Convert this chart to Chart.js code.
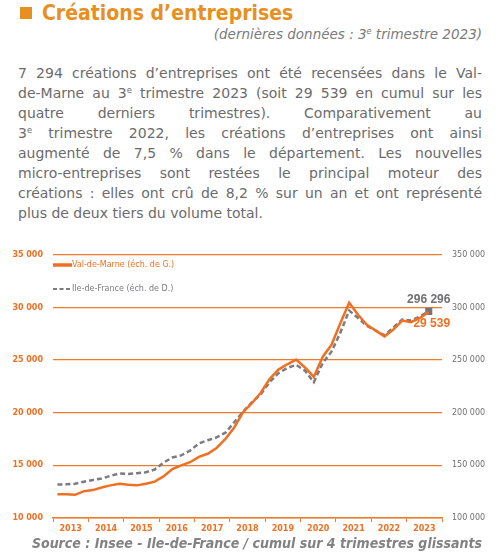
<!DOCTYPE html>
<html lang="fr">
<head>
    <meta charset="UTF-8">
    <title>Créations d'entreprises</title>
    <script src="https://cdn.jsdelivr.net/npm/chart.js"></script>
    <style>
        body { margin: 0; width: 499px; height: 553px; background: #fff; position: relative; overflow: hidden; }
        .carre { position: absolute; left: 20px; top: 7px; width: 12px; height: 12px; background: #E8901F; }
        .titre { position: absolute; left: 42px; top: 1px; font: bold 21px "DejaVu Sans Condensed", "DejaVu Sans"; color: #E8901F; }
        .soustitre { position: absolute; right: 17px; top: 26px; font: italic 13.5px "DejaVu Sans"; color: #7a7a7a; }
        .texte { position: absolute; left: 18px; top: 63px; width: 464px; font: 14px "DejaVu Sans"; line-height: 20px; color: #6b6b6b; }
        .texte div { text-align: justify; text-align-last: justify; white-space: nowrap; }
        .texte div.fin { text-align-last: left; }
        sup { font-size: 0.6em; line-height: 0; vertical-align: 0.6em; }
        #zone { position: absolute; left: 0; top: 240px; }
        .source { position: absolute; left: 0; width: 482px; text-align: right; top: 535px; font: italic bold 14px "DejaVu Sans Condensed", "DejaVu Sans"; color: #828282; }
    </style>
</head>
<body>
    <div class="carre"></div>
    <div class="titre">Créations d’entreprises</div>
    <div class="soustitre">(dernières données : 3<sup>e</sup> trimestre 2023)</div>
    <div class="texte">
        <div>7 294 créations d’entreprises ont été recensées dans le Val-</div>
        <div>de-Marne au 3<sup>e</sup> trimestre 2023 (soit 29 539 en cumul sur les</div>
        <div>quatre derniers trimestres). Comparativement au</div>
        <div>3<sup>e</sup> trimestre 2022, les créations d’entreprises ont ainsi</div>
        <div>augmenté de 7,5 % dans le département. Les nouvelles</div>
        <div>micro-entreprises sont restées le principal moteur des</div>
        <div>créations : elles ont crû de 8,2 % sur un an et ont représenté</div>
        <div class="fin">plus de deux tiers du volume total.</div>
    </div>

    <canvas id="zone" width="499" height="296"></canvas>

    <div class="source">Source : Insee - Ile-de-France / cumul sur 4 trimestres glissants</div>

    <script>
        // données trimestrielles, 2013 T1 -> 2023 T3 (cumul sur 4 trimestres)
        var years = ['2013', '2014', '2015', '2016', '2017', '2018', '2019', '2020', '2021', '2022', '2023'];
        var valDeMarne = [12250, 12250, 12200, 12550, 12650, 12900, 13100, 13250, 13150, 13100, 13250, 13450,
            13950, 14650, 15000, 15300, 15800, 16100, 16650, 17500, 18600, 20050, 20900, 21900,
            23200, 24100, 24600, 25050, 24300, 23400, 25300, 26450, 28500, 30450, 29300, 28350,
            27800, 27250, 27900, 28750, 28600, 29000, 29539];
        var ileDeFrance = [131800, 132000, 132500, 134500, 136000, 137500, 140000, 142400, 141800, 142500, 143500, 146000,
            152600, 157500, 159500, 164000, 170800, 173800, 176500, 181000, 191000, 201000, 210000, 217500,
            229000, 237500, 242500, 245500, 240000, 229000, 247000, 258000, 276000, 297000, 290000, 282500,
            278000, 273500, 281000, 288500, 287500, 291500, 296296];
        var leftTicks = [10000, 15000, 20000, 25000, 30000, 35000];
        var rightTicks = [100000, 150000, 200000, 250000, 300000, 350000];

        var ORANGE = '#F07022';
        var GRILLE = '#EE7A2C';
        var GRIS = '#7B7B82';

        function fmt(n) {
            return String(n).replace(/\B(?=(\d{3})+(?!\d))/g, ' ');
        }

        // un point par trimestre, au milieu du trimestre
        function toPoints(arr) {
            return arr.map(function (v, i) {
                return { x: Number(years[0]) + (i + 0.5) / 4, y: v };
            });
        }

        var yearTicks = [];
        for (var k = 0; k <= years.length * 2; k++) {
            yearTicks.push({ value: Number(years[0]) + k / 2 });
        }

        // légende dans la zone du graphe + étiquettes des dernières valeurs
        var habillage = {
            id: 'habillage',
            afterDatasetsDraw: function (chart) {
                var ctx = chart.ctx;
                var a = chart.chartArea;
                ctx.save();
                ctx.lineWidth = 3.5;
                ctx.strokeStyle = ORANGE;
                ctx.beginPath(); ctx.moveTo(a.left, 25); ctx.lineTo(a.left + 19, 25); ctx.stroke();
                ctx.lineWidth = 2;
                ctx.strokeStyle = GRIS;
                ctx.setLineDash([4, 2.5]);
                ctx.beginPath(); ctx.moveTo(a.left, 49); ctx.lineTo(a.left + 19, 49); ctx.stroke();
                ctx.setLineDash([]);
                ctx.font = '8px "DejaVu Sans"';
                ctx.textBaseline = 'middle';
                ctx.fillStyle = ORANGE;
                ctx.fillText('Val-de-Marne (éch. de G.)', a.left + 19, 25);
                ctx.fillStyle = GRIS;
                ctx.fillText('Ile-de-France (éch. de D.)', a.left + 19, 49);

                var p1 = chart.getDatasetMeta(1).data[ileDeFrance.length - 1];
                var p0 = chart.getDatasetMeta(0).data[valDeMarne.length - 1];
                ctx.font = 'bold 12px "Liberation Sans"';
                ctx.textAlign = 'center';
                ctx.fillStyle = '#6f6f74';
                ctx.fillText(fmt(ileDeFrance[ileDeFrance.length - 1]), p1.x, p1.y - 12);
                ctx.fillStyle = ORANGE;
                ctx.fillText(fmt(valDeMarne[valDeMarne.length - 1]), p0.x + 3, p0.y + 11.5);
                ctx.restore();
            }
        };

        var config = {
            type: 'line',
            data: {
                datasets: [
                    {
                        label: 'Val-de-Marne (éch. de G.)',
                        data: toPoints(valDeMarne),
                        yAxisID: 'y',
                        borderColor: ORANGE,
                        borderWidth: 2.5,
                        pointRadius: 0,
                        tension: 0
                    },
                    {
                        label: 'Ile-de-France (éch. de D.)',
                        data: toPoints(ileDeFrance),
                        yAxisID: 'y1',
                        borderColor: GRIS,
                        borderWidth: 2.5,
                        borderDash: [5, 3],
                        pointStyle: 'rect',
                        pointRadius: function (c) { return c.dataIndex === ileDeFrance.length - 1 ? 5 : 0; },
                        pointBackgroundColor: '#75757b',
                        pointBorderWidth: 0,
                        tension: 0
                    }
                ]
            },
            options: {
                responsive: false,
                animation: false,
                layout: { padding: { top: 10, left: 0, right: 0, bottom: 0 } },
                plugins: { legend: { display: false }, tooltip: { enabled: false } },
                scales: {
                    x: {
                        type: 'linear',
                        min: Number(years[0]),
                        max: Number(years[years.length - 1]) + 1,
                        afterBuildTicks: function (s) { s.ticks = yearTicks.map(function (t) { return { value: t.value }; }); },
                        afterFit: function (s) { s.height = 18; },
                        ticks: {
                            autoSkip: false,
                            maxRotation: 0,
                            padding: 2,
                            color: ORANGE,
                            font: { family: 'DejaVu Sans', size: 8, weight: 'bold' },
                            callback: function (v) { return (v % 1 === 0.5) ? String(Math.floor(v)) : ''; }
                        },
                        grid: {
                            drawOnChartArea: false,
                            tickLength: 4,
                            tickColor: function (c) { return (c.tick && c.tick.value % 1 === 0) ? GRILLE : 'rgba(0,0,0,0)'; }
                        },
                        border: { color: GRILLE, width: 1.5 }
                    },
                    y: {
                        position: 'left',
                        min: leftTicks[0],
                        max: leftTicks[leftTicks.length - 1],
                        afterFit: function (s) { s.width = 53; },
                        ticks: {
                            stepSize: leftTicks[1] - leftTicks[0],
                            padding: 10,
                            color: ORANGE,
                            font: { family: 'DejaVu Sans', size: 8, weight: 'bold' },
                            callback: function (v) { return fmt(v); }
                        },
                        grid: { color: GRILLE, lineWidth: 1.3, drawTicks: false },
                        border: { display: false }
                    },
                    y1: {
                        position: 'right',
                        min: rightTicks[0],
                        max: rightTicks[rightTicks.length - 1],
                        afterFit: function (s) { s.width = 57; },
                        ticks: {
                            stepSize: rightTicks[1] - rightTicks[0],
                            padding: 10,
                            color: '#6f6f6f',
                            font: { family: 'DejaVu Sans', size: 8 },
                            callback: function (v) { return fmt(v); }
                        },
                        grid: { drawOnChartArea: false, drawTicks: false },
                        border: { display: false }
                    }
                }
            },
            plugins: [habillage]
        };

        var ctx = document.getElementById('zone').getContext('2d');
        var chart = new Chart(ctx, config);
    </script>
</body>
</html>
